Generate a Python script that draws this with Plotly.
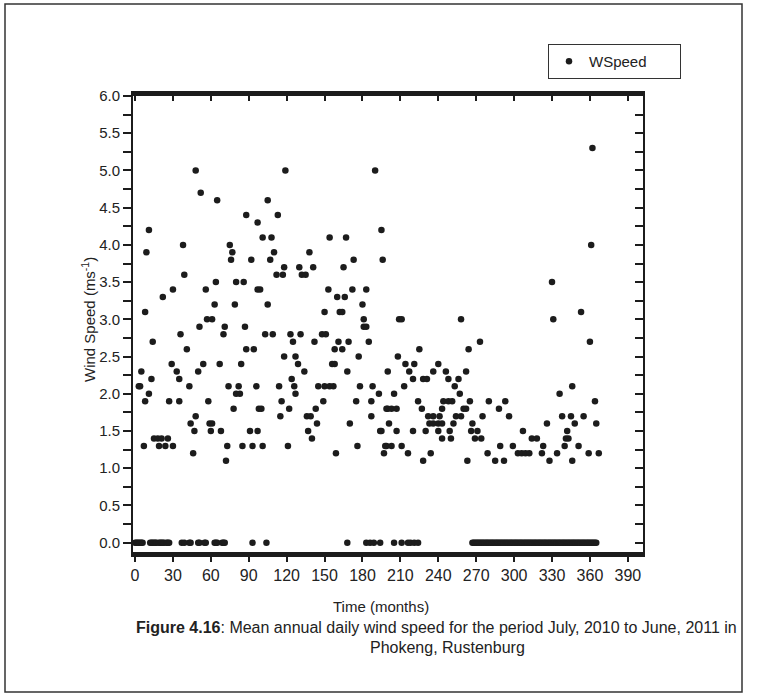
import plotly.graph_objects as go

# Daily mean wind speed readings (day index, m/s)
day = [
    3, 4, 5, 7, 8, 8, 9, 11, 11, 13, 14, 15, 18, 19, 21, 22, 24, 26, 27, 29,
    30, 30, 33, 35, 35, 36, 38, 39, 41, 43, 44, 46, 47, 48, 48, 50, 51, 52, 54, 56,
    57, 58, 59, 60, 61, 61, 63, 64, 65, 67, 68, 70, 71, 72, 73, 74, 75, 76, 77, 78,
    79, 80, 80, 82, 83, 84, 85, 86, 87, 88, 88, 91, 92, 93, 94, 96, 97, 97, 97, 98,
    99, 100, 101, 101, 103, 105, 105, 107, 108, 109, 110, 112, 113, 114, 115, 116, 117, 118, 118, 119,
    121, 122, 123, 124, 125, 126, 127, 127, 129, 130, 131, 132, 134, 135, 136, 137, 138, 139, 140, 141,
    142, 143, 144, 145, 148, 149, 150, 150, 151, 153, 154, 154, 156, 157, 158, 158, 159, 160, 161, 162,
    164, 164, 165, 166, 167, 168, 169, 170, 172, 173, 175, 176, 177, 178, 180, 181, 181, 183, 183, 185,
    187, 187, 188, 190, 193, 194, 195, 196, 197, 199, 200, 200, 201,
    195, 198, 199, 203, 203, 205, 207, 207, 208, 209, 211, 211, 213, 214, 216, 217, 220, 220, 221, 224,
    225, 227, 228, 228, 230, 231, 232, 233, 234, 236, 236, 236, 240, 240, 240, 241, 243, 243, 243, 244,
    246, 248, 248, 249, 250, 251, 252, 253, 254, 256, 257, 258, 258, 260, 262, 262, 263, 264, 265, 266,
    267, 269, 271, 273, 274, 275, 279, 280, 285, 288, 289, 292, 293, 296, 299, 303,
    306, 307, 309, 312, 314, 318, 322, 323, 326, 328, 330, 331, 334, 336, 338, 340, 341, 342, 343, 345,
    346, 346, 348, 351, 353, 355, 359, 360, 361, 362, 364, 365, 367,
]
wspeed = [
    2.1, 2.1, 2.3, 1.3, 1.9, 3.1, 3.9, 4.2, 2.0, 2.2, 2.7, 1.4, 1.4, 1.3, 1.4, 3.3, 1.3, 1.4, 1.9, 2.4,
    1.3, 3.4, 2.3, 2.2, 1.9, 2.8, 4.0, 3.6, 2.6, 2.1, 1.6, 1.2, 1.5, 5.0, 1.7, 2.3, 2.9, 4.7, 2.4, 3.4,
    3.0, 1.9, 1.6, 1.5, 3.0, 1.6, 3.2, 3.5, 4.6, 2.4, 1.5, 2.8, 2.9, 1.1, 1.3, 2.1, 4.0, 3.8, 3.9, 1.8,
    3.2, 3.5, 2.0, 2.1, 2.0, 2.4, 1.3, 3.5, 2.9, 4.4, 2.6, 1.5, 3.8, 1.3, 2.6, 2.1, 4.3, 3.4, 1.5, 1.8,
    3.4, 1.8, 4.1, 1.3, 2.8, 4.6, 3.2, 3.8, 4.1, 2.8, 3.9, 3.6, 4.4, 2.1, 1.7, 1.9, 3.6, 3.7, 2.5, 5.0,
    1.3, 1.8, 2.8, 2.2, 2.7, 2.1, 2.5, 2.0, 2.4, 3.7, 2.8, 3.6, 2.3, 3.6, 1.7, 1.5, 3.9, 1.7, 1.4, 3.7,
    2.7, 1.8, 1.6, 2.1, 2.8, 1.9, 3.1, 2.1, 2.8, 3.4, 4.1, 2.1, 2.4, 2.1, 2.6, 2.4, 1.2, 3.3, 2.7, 3.1,
    3.1, 2.6, 3.7, 3.3, 4.1, 2.3, 2.7, 1.6, 3.4, 3.8, 1.9, 1.3, 2.5, 2.1, 3.2, 3.0, 2.9, 3.4, 2.9, 2.7,
    1.9, 1.7, 2.1, 5.0, 2.0, 1.5, 4.2, 3.8, 1.2, 1.3, 2.3, 1.8, 1.6,
    1.5, 1.3, 1.8, 1.8, 1.3, 2.0, 1.8, 1.5, 2.5, 3.0, 3.0, 1.3, 2.1, 2.4, 1.2, 2.3, 2.2, 1.5, 2.4, 1.9,
    2.6, 1.8, 2.2, 1.1, 1.5, 2.2, 1.7, 1.6, 1.2, 2.3, 1.7, 1.6, 2.4, 1.6, 1.5, 1.7, 1.8, 1.6, 1.4, 1.9,
    2.3, 2.2, 1.9, 1.5, 1.4, 1.9, 1.6, 2.1, 1.7, 2.2, 2.0, 3.0, 1.7, 1.8, 2.3, 1.8, 1.1, 2.6, 1.9, 1.5,
    1.6, 1.4, 1.5, 2.7, 1.4, 1.7, 1.2, 1.9, 1.1, 1.8, 1.3, 1.1, 1.9, 1.7, 1.3, 1.2,
    1.2, 1.5, 1.2, 1.2, 1.4, 1.4, 1.2, 1.3, 1.6, 1.1, 3.5, 3.0, 1.2, 2.0, 1.7, 1.3, 1.4, 1.5, 1.4, 1.7,
    2.1, 1.1, 1.6, 1.3, 3.1, 1.7, 1.2, 2.7, 4.0, 5.3, 1.9, 1.6, 1.2,
]

# Days with calm (zero) readings
calm_days = (
    [0, 1, 2, 3, 4, 5, 6]
    + [12, 13, 14, 15, 16, 17, 19, 20, 21, 22, 23, 25, 26, 27]
    + [37, 39, 43, 44, 50, 51, 55, 56, 63, 64, 65, 69, 70, 71, 93, 104]
    + [168, 183, 186, 189, 194, 205, 211, 216, 218, 221, 224]
    + list(range(267, 366))
)
calm_speed = [0.0] * len(calm_days)

all_days = day + calm_days
all_speed = wspeed + calm_speed

W, H = 757, 696
L, R, T, B = 133, 643, 96, 552  # plot area edges in pixels


def px(xp):
    return (xp - L) / (R - L)


def py(yp):
    return (B - yp) / (B - T)


ink = "#1c1c1c"
font = "Liberation Sans, Arial, sans-serif"

fig = go.Figure()
fig.add_trace(go.Scatter(
    x=all_days, y=all_speed, mode="markers", name="WSpeed",
    marker=dict(color=ink, size=6.5, line=dict(width=0)),
))
# helper trace so the mirrored top/right axes are drawn
fig.add_trace(go.Scatter(x=[None], y=[None], xaxis="x2", yaxis="y2",
                         showlegend=False, hoverinfo="skip"))

xr = [-1.6, 402]
yr = [-0.125, 6.0]

fig.update_layout(
    width=W, height=H,
    margin=dict(l=L, r=W - R, t=T, b=H - B),
    paper_bgcolor="white", plot_bgcolor="white",
    font=dict(family=font, size=14, color="#222"),
    showlegend=True,
    legend=dict(
        x=px(548), y=py(44), xanchor="left", yanchor="top",
        orientation="h", entrywidth=86, entrywidthmode="pixels",
        bordercolor="#333", borderwidth=1, bgcolor="white",
        font=dict(size=15),
    ),
    xaxis=dict(
        range=xr, tick0=0, dtick=30, ticks="outside", ticklen=5, tickwidth=1.5,
        tickcolor=ink, showline=True, linewidth=5, linecolor=ink,
        showgrid=False, zeroline=False, tickfont=dict(size=16),
    ),
    xaxis2=dict(
        range=xr, overlaying="x", side="top", tick0=0, dtick=30,
        ticks="inside", ticklen=5, tickwidth=1.5, tickcolor=ink,
        showline=True, linewidth=5, linecolor=ink, showticklabels=False,
        showgrid=False, zeroline=False,
    ),
    yaxis=dict(
        range=yr, tick0=0, dtick=0.5, tickformat=".1f", ticks="outside",
        ticklen=8, tickwidth=1.5, tickcolor=ink,
        minor=dict(dtick=0.25, ticks="outside", ticklen=8, tickwidth=1.5, tickcolor=ink),
        showline=True, linewidth=2, linecolor=ink,
        showgrid=False, zeroline=False, tickfont=dict(size=15),
    ),
    yaxis2=dict(
        range=yr, overlaying="y", side="right", tick0=0, dtick=0.5,
        ticks="inside", ticklen=8, tickwidth=1.5, tickcolor=ink,
        minor=dict(dtick=0.25, ticks="inside", ticklen=8, tickwidth=1.5, tickcolor=ink),
        showline=True, linewidth=2, linecolor=ink, showticklabels=False,
        showgrid=False, zeroline=False,
    ),
    shapes=[
        dict(type="rect", xref="paper", yref="paper",
             x0=px(5), x1=px(742), y0=py(692), y1=py(4),
             line=dict(color="#333", width=1.5), fillcolor="rgba(0,0,0,0)"),
    ],
    annotations=[
        dict(text="Wind Speed (ms<sup>-1</sup>)", textangle=-90,
             x=px(88), y=py(320), xref="paper", yref="paper",
             xanchor="center", yanchor="middle", showarrow=False,
             font=dict(size=15)),
        dict(text="Time (months)", x=px(381), y=py(606), xref="paper", yref="paper",
             xanchor="center", yanchor="middle", showarrow=False, font=dict(size=15)),
        dict(text="<b>Figure 4.16</b>: Mean annual daily wind speed for the period July, 2010 to June, 2011 in",
             x=px(436), y=py(627), xref="paper", yref="paper",
             xanchor="center", yanchor="middle", showarrow=False, font=dict(size=16)),
        dict(text="Phokeng, Rustenburg", x=px(447), y=py(647), xref="paper", yref="paper",
             xanchor="center", yanchor="middle", showarrow=False, font=dict(size=16)),
    ],
)

fig.write_html("out.html")
